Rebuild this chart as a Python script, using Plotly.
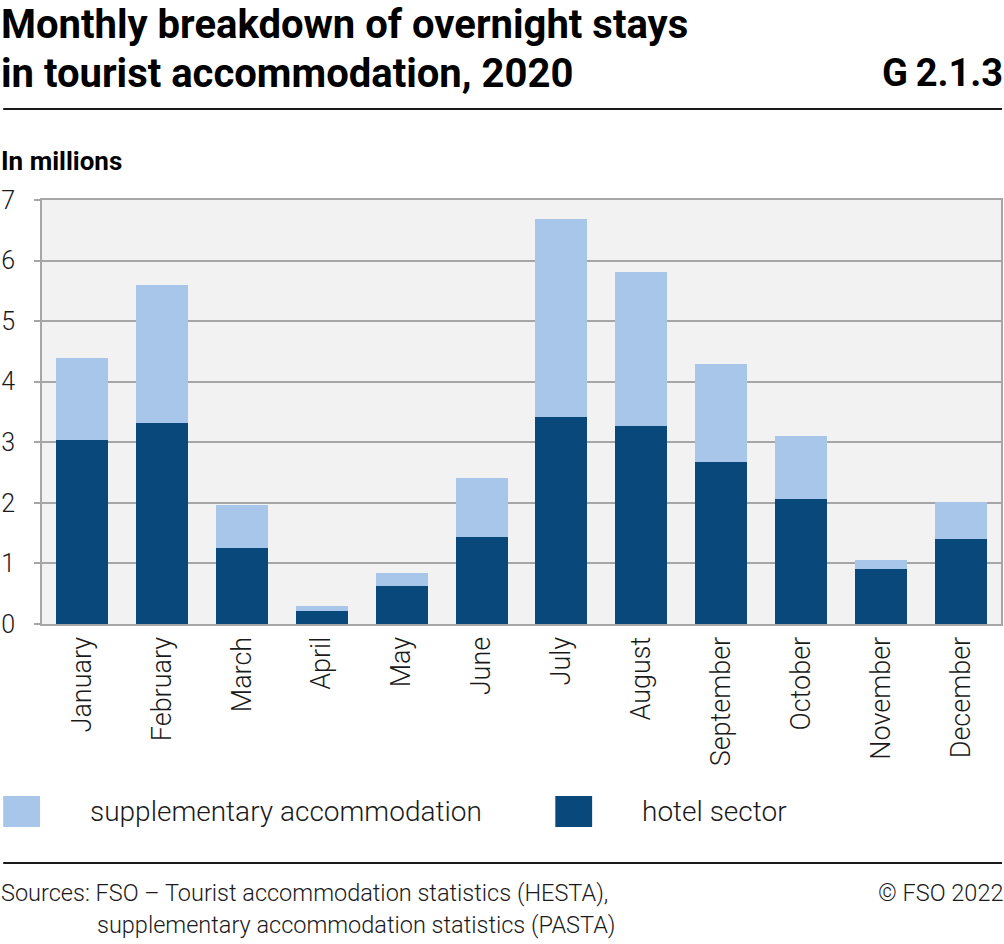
import plotly.graph_objects as go

months = ["January", "February", "March", "April", "May", "June", "July",
          "August", "September", "October", "November", "December"]
hotel = [3.03, 3.32, 1.26, 0.21, 0.63, 1.44, 3.42, 3.27, 2.68, 2.06, 0.90, 1.40]
supplementary = [1.36, 2.28, 0.71, 0.08, 0.21, 0.97, 3.26, 2.54, 1.61, 1.04, 0.16, 0.61]
y_ticks = [0, 1, 2, 3, 4, 5, 6, 7]

W, H = 1004, 944
L, R, T, B = 39, 1003, 200, 624
PW, PH = R - L, B - T

def px(x):
    return (x - L) / PW

def py(y):
    return (B - y) / PH

FONT = "Roboto"
DARK = "#08487a"
LIGHT = "#a8c5ea"
GRID = "#a6a6a6"

fig = go.Figure()
fig.add_trace(go.Bar(x=months, y=hotel, name="hotel sector",
                     marker=dict(color=DARK, line=dict(width=0))))
fig.add_trace(go.Bar(x=months, y=supplementary, name="supplementary accommodation",
                     marker=dict(color=LIGHT, line=dict(width=0))))

fig.update_layout(
    width=W, height=H,
    margin=dict(l=L, r=W - R, t=T, b=H - B, pad=0),
    barmode="stack", bargap=0.35,
    showlegend=False,
    paper_bgcolor="white", plot_bgcolor="#f2f2f2",
    font=dict(family=FONT, color="#000000"),
)
fig.update_xaxes(
    tickangle=-90, tickfont=dict(size=27, family=FONT, weight=300, color="#1a1a1a"),
    showline=True, linecolor=GRID, linewidth=2, mirror=True,
    ticks="", showgrid=False, ticklabelstandoff=0,
)
fig.update_yaxes(
    range=[0, 7], tickvals=y_ticks,
    tickfont=dict(size=25, family=FONT, weight=300, color="#1a1a1a"),
    showline=True, linecolor=GRID, linewidth=2, mirror=True,
    ticks="outside", ticklen=6, tickcolor=GRID, tickwidth=2,
    showgrid=True, gridcolor=GRID, gridwidth=2, zeroline=False,
    ticklabelstandoff=14,
)

ann = []
title_font = dict(family=FONT, size=40, weight=700, color="#000000")
ann.append(dict(text="Monthly breakdown of overnight stays", x=px(-4), y=py(24),
                xanchor="left", yanchor="middle", font=title_font))
ann.append(dict(text="in tourist accommodation, 2020", x=px(-4), y=py(73),
                xanchor="left", yanchor="middle", font=title_font))
ann.append(dict(text="G\u20092.1.3", x=px(1007), y=py(73),
                xanchor="right", yanchor="middle",
                font=dict(family=FONT, size=38, weight=700, color="#000000")))
ann.append(dict(text="In millions", x=px(-4), y=py(161),
                xanchor="left", yanchor="middle",
                font=dict(family=FONT, size=26, weight=700, color="#000000")))
leg_font = dict(family=FONT, size=28, weight=300, color="#1a1a1a")
ann.append(dict(text="supplementary accommodation", x=px(85), y=py(811),
                xanchor="left", yanchor="middle", font=leg_font))
ann.append(dict(text="hotel sector", x=px(640), y=py(811),
                xanchor="left", yanchor="middle", font=leg_font))
src_font = dict(family=FONT, size=23.5, weight=300, color="#1a1a1a")
ann.append(dict(text="Sources: FSO – Tourist accommodation statistics (HESTA),", x=px(-4), y=py(893),
                xanchor="left", yanchor="middle", font=src_font))
ann.append(dict(text="supplementary accommodation statistics (PASTA)", x=px(92), y=py(925),
                xanchor="left", yanchor="middle", font=src_font))
ann.append(dict(text="© FSO 2022", x=px(1007), y=py(893),
                xanchor="right", yanchor="middle", font=src_font))
for a in ann:
    a.update(xref="paper", yref="paper", showarrow=False)
fig.update_layout(annotations=ann)

shapes = [
    dict(type="line", x0=px(0), x1=px(1004), y0=py(109), y1=py(109),
         line=dict(color="#1a1a1a", width=2)),
    dict(type="line", x0=px(0), x1=px(1004), y0=py(863), y1=py(863),
         line=dict(color="#1a1a1a", width=2)),
    dict(type="rect", x0=px(0), x1=px(37), y0=py(796), y1=py(827),
         fillcolor=LIGHT, line=dict(width=0)),
    dict(type="rect", x0=px(555), x1=px(592), y0=py(796), y1=py(827),
         fillcolor=DARK, line=dict(width=0)),
]
for s in shapes:
    s.update(xref="paper", yref="paper")
fig.update_layout(shapes=shapes)

fig.write_html("out.html", config={"displayModeBar": False},
               post_script="document.body.style.margin='0';document.body.style.padding='0';")
